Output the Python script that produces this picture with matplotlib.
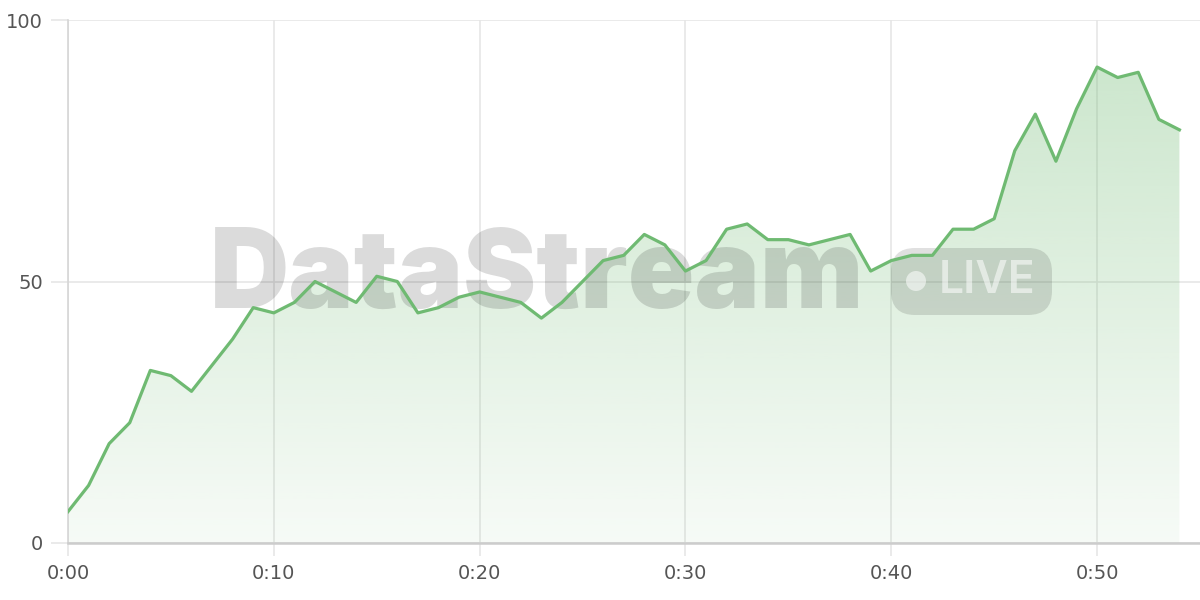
import numpy as np
import matplotlib.pyplot as plt
from matplotlib.patches import FancyBboxPatch, Circle, PathPatch
from matplotlib.path import Path
from matplotlib.transforms import Affine2D

# minutes since start, and the live value
minutes = list(range(55))
values = [6, 11, 19, 23, 33, 32, 29, 34, 39, 45,
          44, 46, 50, 48, 46, 51, 50, 44, 45, 47,
          48, 47, 46, 43, 46, 50, 54, 55, 59, 57,
          52, 54, 60, 61, 58, 58, 57, 58, 59, 52,
          54, 55, 55, 60, 60, 62, 75, 82, 73, 83,
          91, 89, 90, 81, 79]
xticks = [0, 10, 20, 30, 40, 50]
xtick_labels = ["0:00", "0:10", "0:20", "0:30", "0:40", "0:50"]
yticks = [0, 50, 100]

green = "#6fba72"
grid_c = "#e6e6e6"

plt.rcParams['font.family'] = ['DejaVu Sans']

fig = plt.figure(figsize=(12, 6), dpi=100)
ax = fig.add_axes([68/1200, 57/600, 1132/1200, 523/600])
ax.set_xlim(0, 55)
ax.set_ylim(0, 100)

# gradient fill under the line
x = np.array(minutes, dtype=float)
y = np.array(values, dtype=float)
grad = np.zeros((256, 1, 4))
grad[:, 0, :3] = np.array([0x6f, 0xba, 0x72]) / 255
grad[:, 0, 3] = np.linspace(0.06, 0.38, 256)
im = ax.imshow(grad, extent=[0, 55, 0, 100], origin="lower", aspect="auto", zorder=1)
verts = [(x[0], 0)] + list(zip(x, y)) + [(x[-1], 0), (x[0], 0)]
codes = [Path.MOVETO] + [Path.LINETO] * (len(verts) - 2) + [Path.CLOSEPOLY]
clip = PathPatch(Path(verts, codes), transform=ax.transData, facecolor="none", edgecolor="none")
ax.add_patch(clip)
im.set_clip_path(clip)

ax.plot(x, y, color=green, lw=2.3, zorder=4)

# grid and axes
ax.set_xticks(xticks)
ax.set_xticklabels(xtick_labels)
ax.set_yticks(yticks)
ax.grid(True, color=grid_c, lw=1.2, zorder=0)
ax.set_axisbelow(True)
for s in ["top", "right"]:
    ax.spines[s].set_visible(False)
ax.spines["left"].set_color("#d6d6d6")
ax.spines["left"].set_linewidth(1.2)
ax.spines["bottom"].set_color("#cccccc")
ax.spines["bottom"].set_linewidth(1.8)
ax.tick_params(axis="y", length=12, color=grid_c, width=1.2, pad=6, labelsize=14, labelcolor="#555555")
ax.tick_params(axis="x", length=9, color=grid_c, width=1.2, pad=6, labelsize=14, labelcolor="#555555")

# watermark, placed in pixel coords (origin bottom left)
px = Affine2D().scale(1/1200, 1/600) + fig.transFigure
ax.text(210, 600 - 279, "DataStream", transform=px, ha="left", va="center",
        fontsize=79, fontweight=900, family=["Inter", "DejaVu Sans"],
        color="black", alpha=0.14, zorder=3)
ax.add_patch(FancyBboxPatch((891, 600 - 315), 161, 67, boxstyle="round,pad=0,rounding_size=24",
                            transform=px, facecolor="black", alpha=0.12, edgecolor="none", zorder=3))
ax.add_patch(Circle((916, 600 - 281), 10, transform=px, facecolor="white", alpha=0.55,
                    edgecolor="none", zorder=3))
ax.text(939, 600 - 281, "LIVE", transform=px, ha="left", va="center",
        fontsize=32, fontweight="semibold", color="white", alpha=0.55, zorder=3,
        family=["Inter", "DejaVu Sans"])

fig.savefig("out.png", dpi=100)
